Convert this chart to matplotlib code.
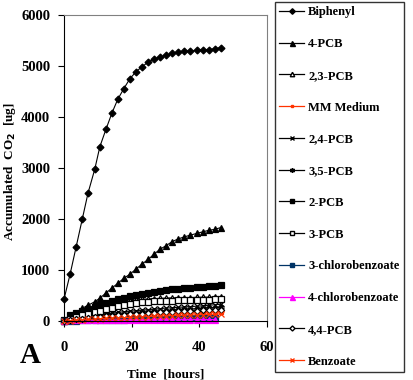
import matplotlib
matplotlib.use("Agg")
import matplotlib.pyplot as plt
from matplotlib.lines import Line2D

plt.rcParams['font.family'] = ['Liberation Serif', 'DejaVu Serif']
plt.rcParams['font.weight'] = 'bold'

# sampling times [hours]
hours = [0, 1.8, 3.6, 5.4, 7.1, 9.1, 10.6, 12.4, 14.2, 15.9, 17.7, 19.5, 21.3, 23.1,
         24.9, 26.6, 28.4, 30.1, 31.9, 33.7, 35.5, 37.3, 39.3, 41.0, 42.8, 44.6, 46.4]

biphenyl = [430, 920, 1460, 2000, 2510, 2980, 3420, 3760, 4085, 4350, 4560, 4755, 4890, 4990,
            5080, 5140, 5180, 5215, 5250, 5270, 5290, 5295, 5310, 5320, 5325, 5340, 5365]
pcb_4 = [30, 100, 150, 250, 310, 380, 450, 550, 650, 740, 840, 920, 1020, 1120,
         1210, 1310, 1410, 1475, 1555, 1610, 1650, 1685, 1720, 1750, 1780, 1800, 1835]
pcb_23 = [10, 60, 100, 140, 180, 220, 260, 300, 330, 360, 380, 400, 415, 425,
          435, 440, 445, 450, 455, 458, 460, 462, 465, 468, 470, 472, 475]
mm_medium = [0, 15, 25, 35, 45, 55, 65, 72, 80, 88, 95, 102, 108, 115,
             120, 125, 130, 135, 140, 145, 150, 155, 160, 165, 170, 175, 180]
pcb_24 = [10, 30, 50, 70, 90, 110, 125, 140, 155, 170, 185, 195, 205, 215,
          225, 235, 245, 255, 262, 270, 278, 285, 292, 300, 310, 320, 330]
pcb_35 = [5, 25, 40, 55, 70, 85, 100, 112, 125, 135, 145, 155, 165, 175,
          182, 190, 198, 205, 212, 220, 228, 235, 242, 250, 258, 265, 272]
pcb_2 = [20, 110, 150, 190, 240, 280, 320, 360, 400, 430, 460, 490, 520, 540,
         560, 575, 590, 605, 620, 635, 645, 655, 665, 675, 685, 695, 705]
pcb_3 = [10, 50, 80, 110, 140, 170, 200, 230, 260, 290, 310, 330, 350, 365,
         375, 385, 390, 395, 400, 405, 410, 415, 418, 420, 422, 425, 430]
cba_3 = [0, 5, 10, 12, 15, 18, 20, 22, 25, 28, 30, 32, 35, 38,
         40, 42, 45, 48, 50, 52, 55, 58, 60, 62, 65, 68]
cba_4 = [10, 12, 14, 15, 16, 18, 18, 20, 20, 22, 22, 24, 24, 25,
         25, 26, 26, 27, 27, 28, 28, 29, 29, 30, 30, 30]
pcb_44 = [5, 20, 35, 50, 62, 75, 85, 95, 105, 115, 125, 133, 140, 148,
          155, 162, 170, 177, 183, 190, 195, 200, 205, 210, 215, 220, 225]
benzoate = [0, 10, 18, 25, 32, 40, 46, 52, 58, 63, 68, 73, 78, 83,
            88, 92, 96, 100, 105, 110, 114, 118, 122, 127, 131, 135, 140]

red = '#FF3300'
series = [
    ('Biphenyl', biphenyl, 'black', 'D', 'black', 3.5),
    ('4-PCB', pcb_4, 'black', '^', 'black', 4.5),
    ('2,3-PCB', pcb_23, 'black', '^', 'white', 4),
    ('MM Medium', mm_medium, red, 's', red, 2.5),
    ('2,4-PCB', pcb_24, 'black', 'x', 'black', 4),
    ('3,5-PCB', pcb_35, 'black', (6, 2, 0), 'black', 4.5),
    ('2-PCB', pcb_2, 'black', 's', 'black', 3.8),
    ('3-PCB', pcb_3, 'black', 's', 'white', 3.8),
    ('3-chlorobenzoate', cba_3, '#003366', 's', '#003366', 3.8),
    ('4-chlorobenzoate', cba_4, '#FF00FF', '^', '#FF00FF', 4.5),
    ('4,4-PCB', pcb_44, 'black', 'D', 'white', 3.2),
    ('Benzoate', benzoate, red, 'x', red, 4),
]

fig = plt.figure(figsize=(4.13, 3.80), dpi=100)
ax = fig.add_axes([0.155, 0.155, 0.491, 0.805])

handles = []
for name, vals, col, mk, fc, ms in series:
    ax.plot(hours[:len(vals)], vals, color=col, lw=0.8, marker=mk, markersize=ms,
            markerfacecolor=fc, markeredgecolor=col, markeredgewidth=0.9, clip_on=False)
    handles.append(Line2D([], [], color=col, lw=0.9, marker=mk, markersize=ms * 0.8,
                          markerfacecolor=fc, markeredgecolor=col, label=name))

ax.set_xlim(0, 60)
ax.set_ylim(0, 6000)
ax.set_xticks([0, 20, 40, 60])
ax.set_yticks([0, 1000, 2000, 3000, 4000, 5000, 6000])
ax.tick_params(axis='x', direction='out', length=4, pad=10, labelsize=10.5)
ax.tick_params(axis='y', direction='out', length=4, pad=6, labelsize=10.5)
for s in ['top', 'right']:
    ax.spines[s].set_color('#808080')
ax.set_xlabel('Time  [hours]', fontsize=9.5, fontweight='bold')
ax.xaxis.set_label_coords(0.5, -0.155)
ax.set_ylabel('Accumulated  CO$_2$  [ug]', fontsize=9.5, fontweight='bold')
ax.yaxis.set_label_coords(-0.225, 0.49)

fig.text(0.048, 0.045, 'A', fontsize=21, fontweight='bold')

fig.legend(handles=handles, loc='upper left', bbox_to_anchor=(0.666, 0.995),
           frameon=True, fancybox=False, edgecolor='black',
           labelspacing=1.58, handlelength=2.0, handletextpad=0.3,
           borderpad=0.35, borderaxespad=0, prop={'weight': 'bold', 'size': 9})

fig.savefig('out.png', dpi=100)
